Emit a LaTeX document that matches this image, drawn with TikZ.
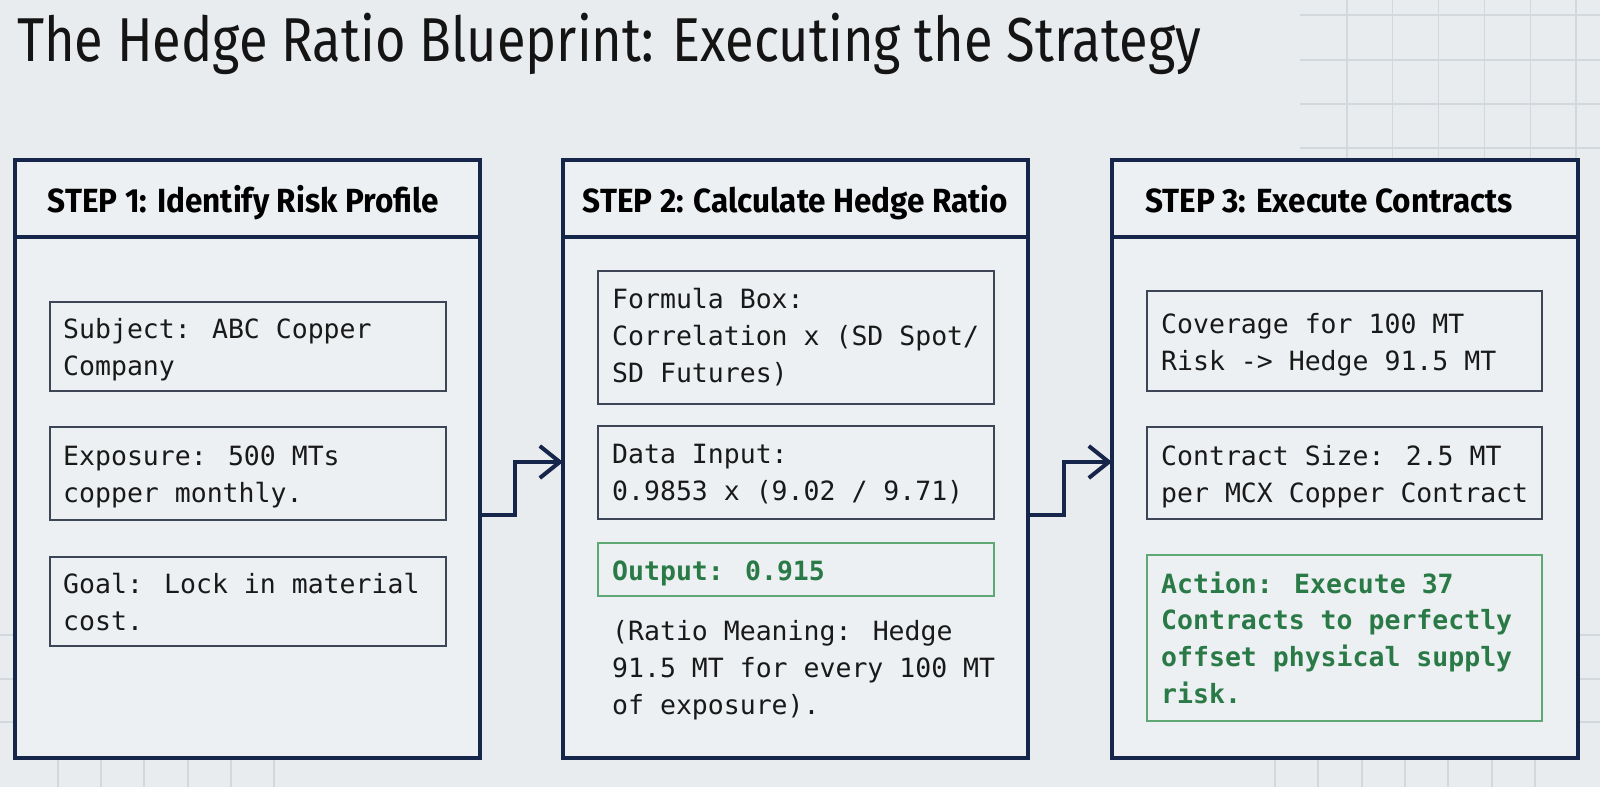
\documentclass[tikz,border=0pt]{standalone}
\usepackage{fontspec}
\usetikzlibrary{arrows.meta,calc}
\setmainfont{Fira Sans}
\newfontfamily\titlef[FakeStretch=0.845]{Fira Sans}
\newfontfamily\headf[FakeStretch=0.94]{Fira Sans}
\newfontfamily\monof{DejaVu Sans Mono}
\definecolor{bgc}{HTML}{E9ECEE}
\definecolor{panelfill}{HTML}{EDF0F2}
\definecolor{navy}{HTML}{16254A}
\definecolor{boxline}{HTML}{3C4657}
\definecolor{gridc}{HTML}{D3D8DC}
\definecolor{greent}{HTML}{2A7A47}
\definecolor{greenb}{HTML}{5DA874}
\begin{document}
\begin{tikzpicture}[x=1pt,y=-1pt,
  panel/.style={draw=navy, line width=4.5pt, fill=panelfill, rectangle, anchor=north west, inner sep=0pt, outer sep=0pt, minimum width=465pt, minimum height=598pt},
  divider/.style={draw=navy, line width=4.5pt},
  headtext/.style={font=\headf\bfseries\fontsize{33.5}{40}\selectfont, anchor=base, inner sep=0pt, text=black},
  ibox/.style={draw=boxline, line width=1.8pt, rectangle, anchor=north west, inner sep=0pt, outer sep=0pt, minimum width=396pt},
  gbox/.style={ibox, draw=greenb},
  mtext/.style={font=\monof\fontsize{26.5}{37}\selectfont, anchor=base west, inner sep=0pt, text=black!90},
  gtext/.style={mtext, font=\monof\bfseries\fontsize{26.5}{36.7}\selectfont, text=greent},
  conn/.style={draw=navy, line width=4pt, -{Straight Barb[length=20pt, width=32pt, line width=4pt]}},
  gridline/.style={draw=gridc, line width=1.2pt}
]
\fill[bgc] (0,0) rectangle (1600,787);
\useasboundingbox (0,0) rectangle (1600,787);

% faint grid, top right
\foreach \yy in {15,60,104,148} \draw[gridline] (1300,\yy) -- (1600,\yy);
\foreach \xx in {1347,1392.8,1438.6,1484.4,1530.2,1576} \draw[gridline] (\xx,0) -- (\xx,160);
% faint grid, bottom
\foreach \xx in {58,101,144,188,231,274,1275,1318,1362,1405,1448,1492,1535} \draw[gridline] (\xx,758) -- (\xx,787);
\foreach \yy in {635,679,722} {\draw[gridline] (0,\yy) -- (15,\yy); \draw[gridline] (1578,\yy) -- (1600,\yy);}

% title
\node[font=\titlef\fontsize{62}{70}\selectfont, anchor=base west, inner sep=0pt, text=black!92] (title) at (17,61) {The Hedge Ratio Blueprint: Executing the Strategy};

% panels
\node[panel] (p1) at (15,160) {};
\node[panel] (p2) at (563,160) {};
\node[panel, minimum width=466pt] (p3) at (1112,160) {};
\foreach \p in {p1,p2,p3} \draw[divider] ($(\p.north west)+(0,77)$) -- ($(\p.north east)+(0,77)$);

\node[headtext] (h1) at ($(p1.north)+(-4,52)$) {STEP 1: Identify Risk Profile};
\node[headtext] (h2) at ($(p2.north)+(0,52)$) {STEP 2: Calculate Hedge Ratio};
\node[headtext] (h3) at ($(p3.north)+(-16,52)$) {STEP 3: Execute Contracts};

% step 1 boxes
\node[ibox, minimum height=89pt] (s11) at (50,302) {};
\node[mtext] (t11) at ($(s11.north west)+(13,36)$) {\parbox[t]{390pt}{Subject: ABC Copper\\Company}};
\node[ibox, minimum height=93pt] (s12) at (50,427) {};
\node[mtext] (t12) at ($(s12.north west)+(13,38)$) {\parbox[t]{390pt}{Exposure: 500 MTs\\copper monthly.}};
\node[ibox, minimum height=89pt] (s13) at (50,557) {};
\node[mtext] (t13) at ($(s13.north west)+(13,36)$) {\parbox[t]{390pt}{Goal: Lock in material\\cost.}};

% step 2 boxes
\node[ibox, minimum height=133pt] (s21) at (598,271) {};
\node[mtext] (t21) at ($(s21.north west)+(14,37)$) {\parbox[t]{390pt}{Formula Box:\\Correlation x (SD Spot/\\SD Futures)}};
\node[ibox, minimum height=93pt] (s22) at (598,426) {};
\node[mtext] (t22) at ($(s22.north west)+(14,37)$) {\parbox[t]{390pt}{Data Input:\\0.9853 x (9.02 / 9.71)}};
\node[gbox, minimum height=53pt] (s23) at (598,543) {};
\node[gtext] (t23) at ($(s23.north west)+(14,37)$) {Output: 0.915};
\node[mtext] (t24) at (612,640) {\parbox[t]{400pt}{(Ratio Meaning: Hedge\\91.5 MT for every 100 MT\\of exposure).}};

% step 3 boxes
\node[ibox, minimum width=395pt, minimum height=100pt] (s31) at (1147,291) {};
\node[mtext] (t31) at ($(s31.north west)+(14,42)$) {\parbox[t]{390pt}{Coverage for 100 MT\\Risk -> Hedge 91.5 MT}};
\node[ibox, minimum width=395pt, minimum height=92pt] (s32) at (1147,427) {};
\node[mtext] (t32) at ($(s32.north west)+(14,38)$) {\parbox[t]{390pt}{Contract Size: 2.5 MT\\per MCX Copper Contract}};
\node[gbox, minimum width=395pt, minimum height=166pt] (s33) at (1147,555) {};
\node[gtext] (t33) at ($(s33.north west)+(14,38)$) {\parbox[t]{390pt}{Action: Execute 37\\Contracts to perfectly\\offset physical supply\\risk.}};

% connectors
\draw[conn] ($(p1.east)+(0,56)$) -- ++(35,0) |- ($(p2.west)+(0,3)$);
\draw[conn] ($(p2.east)+(0,56)$) -- ++(36,0) |- ($(p3.west)+(0,3)$);
\end{tikzpicture}
\end{document}
